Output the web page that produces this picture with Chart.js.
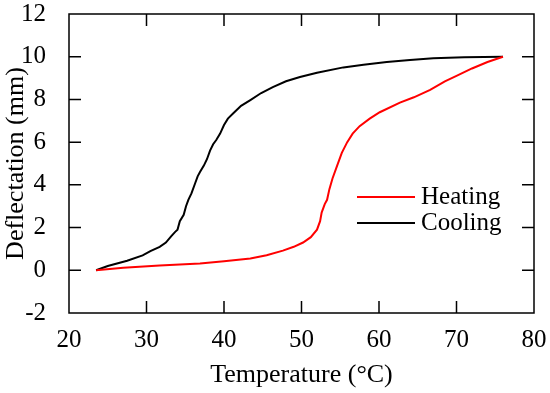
<!DOCTYPE html>
<html>
<head>
<meta charset="utf-8">
<script src="https://cdn.jsdelivr.net/npm/chart.js@4"></script>
<style>
  html, body { margin: 0; padding: 0; background: #fff; }
  #wrap { width: 550px; height: 393px; }
</style>
</head>
<body>
<div id="wrap"><canvas id="chart" width="550" height="393"></canvas></div>
<script>
// values
const heatTemp = [23.5, 27, 31.7, 36.9, 40, 43.4, 45.5, 47.6, 49, 50.2, 51.2, 52, 52.4, 52.6, 53.0, 53.3, 53.6, 54.0, 54.6, 55.2, 55.9, 56.6, 57.5, 58.8, 60.1, 62.7, 64.5, 66.6, 68.5, 70, 72, 74, 76]
const heatDefl = [0, 0.12, 0.22, 0.32, 0.42, 0.55, 0.7, 0.92, 1.1, 1.3, 1.55, 1.9, 2.3, 2.7, 3.1, 3.3, 3.8, 4.3, 4.9, 5.5, 6.0, 6.4, 6.75, 7.1, 7.4, 7.85, 8.1, 8.45, 8.85, 9.1, 9.45, 9.75, 10.0]

const coolTemp = [23.5, 25, 27.5, 29.5, 30.5, 31.7, 32.5, 33.2, 33.7, 34.0, 34.3, 34.8, 35.1, 35.4, 35.8, 36.3, 36.6, 36.9, 37.4, 37.8, 38.2, 38.6, 39.0, 39.5, 40.0, 40.5, 41.2, 42.2, 43.4, 44.8, 46.3, 48, 49.8, 52, 55.4, 58, 61, 64, 67, 71, 76]
const coolDefl = [0, 0.2, 0.45, 0.7, 0.9, 1.1, 1.3, 1.6, 1.8, 1.9, 2.3, 2.6, 3.0, 3.3, 3.6, 4.1, 4.4, 4.6, 4.9, 5.2, 5.6, 5.9, 6.1, 6.4, 6.8, 7.1, 7.35, 7.7, 7.97, 8.3, 8.58, 8.85, 9.05, 9.25, 9.5, 9.62, 9.75, 9.85, 9.93, 9.97, 10]

const seriesNames = ['Heating', 'Cooling']
const seriesColors = ['#ff0000', '#000000']

const xTicks = [20, 30, 40, 50, 60, 70, 80]
const yTicks = [-2, 0, 2, 4, 6, 8, 10, 12]

const FONT = 'Liberation Serif'

const toPoints = (xs, ys) => xs.map((x, i) => ({ x: x, y: ys[i] }))

// frame, inward ticks on all four sides, legend inside the plot
const framePlugin = {
    id: 'frame',
    afterDraw(chart) {
        const { ctx, chartArea: a, scales } = chart
        const tl = 12
        ctx.save()
        ctx.strokeStyle = '#000'
        ctx.lineWidth = 1.5
        ctx.strokeRect(a.left, a.top, a.right - a.left, a.bottom - a.top)
        ctx.beginPath()
        xTicks.slice(1, -1).forEach(v => {
            const px = scales.x.getPixelForValue(v)
            ctx.moveTo(px, a.bottom); ctx.lineTo(px, a.bottom - tl)
            ctx.moveTo(px, a.top); ctx.lineTo(px, a.top + tl)
        })
        yTicks.slice(1, -1).forEach(v => {
            const py = scales.y.getPixelForValue(v)
            ctx.moveTo(a.left, py); ctx.lineTo(a.left + tl, py)
            ctx.moveTo(a.right, py); ctx.lineTo(a.right - tl, py)
        })
        ctx.stroke()

        // legend
        ctx.font = '25px "' + FONT + '"'
        ctx.textBaseline = 'middle'
        ctx.textAlign = 'left'
        seriesNames.forEach((name, i) => {
            const y = 197 + i * 26
            ctx.strokeStyle = seriesColors[i]
            ctx.lineWidth = 2
            ctx.beginPath()
            ctx.moveTo(357, y); ctx.lineTo(415, y)
            ctx.stroke()
            ctx.fillStyle = '#000'
            ctx.fillText(name, 421, y)
        })
        ctx.restore()
    }
}

new Chart(document.getElementById('chart').getContext('2d'), {
    type: 'scatter',
    data: {
        datasets: [{
            label: seriesNames[0],
            data: toPoints(heatTemp, heatDefl),
            borderColor: seriesColors[0],
            borderWidth: 2,
            showLine: true,
            pointRadius: 0,
            tension: 0,
        }, {
            label: seriesNames[1],
            data: toPoints(coolTemp, coolDefl),
            borderColor: seriesColors[1],
            borderWidth: 2,
            showLine: true,
            pointRadius: 0,
            tension: 0,
        }]
    },
    options: {
        responsive: false,
        animation: false,
        layout: { padding: { top: 14, right: 16, left: 0, bottom: 0 } },
        plugins: {
            legend: { display: false },
            tooltip: { enabled: false },
        },
        scales: {
            x: {
                min: 20,
                max: 80,
                afterBuildTicks: s => { s.ticks = xTicks.map(v => ({ value: v })) },
                afterFit: s => { s.height = 80; s.paddingLeft = 0; s.paddingRight = 0 },
                grid: { display: false },
                border: { display: false },
                ticks: { color: '#000', padding: 4, maxRotation: 0, font: { family: FONT, size: 25 } },
                title: {
                    display: true,
                    text: 'Temperature (°C)',
                    color: '#000',
                    font: { family: FONT, size: 26 },
                    padding: { top: 0, bottom: 2 },
                },
            },
            y: {
                min: -2,
                max: 12,
                afterBuildTicks: s => { s.ticks = yTicks.map(v => ({ value: v })) },
                afterFit: s => { s.width = 69; s.paddingTop = 0; s.paddingBottom = 0 },
                grid: { display: false },
                border: { display: false },
                ticks: { color: '#000', padding: 15, font: { family: FONT, size: 25 } },
                title: {
                    display: true,
                    text: 'Deflectation (mm)',
                    color: '#000',
                    font: { family: FONT, size: 26 },
                    padding: { top: 1, bottom: 0 },
                },
            }
        }
    },
    plugins: [framePlugin]
})
</script>
</body>
</html>
